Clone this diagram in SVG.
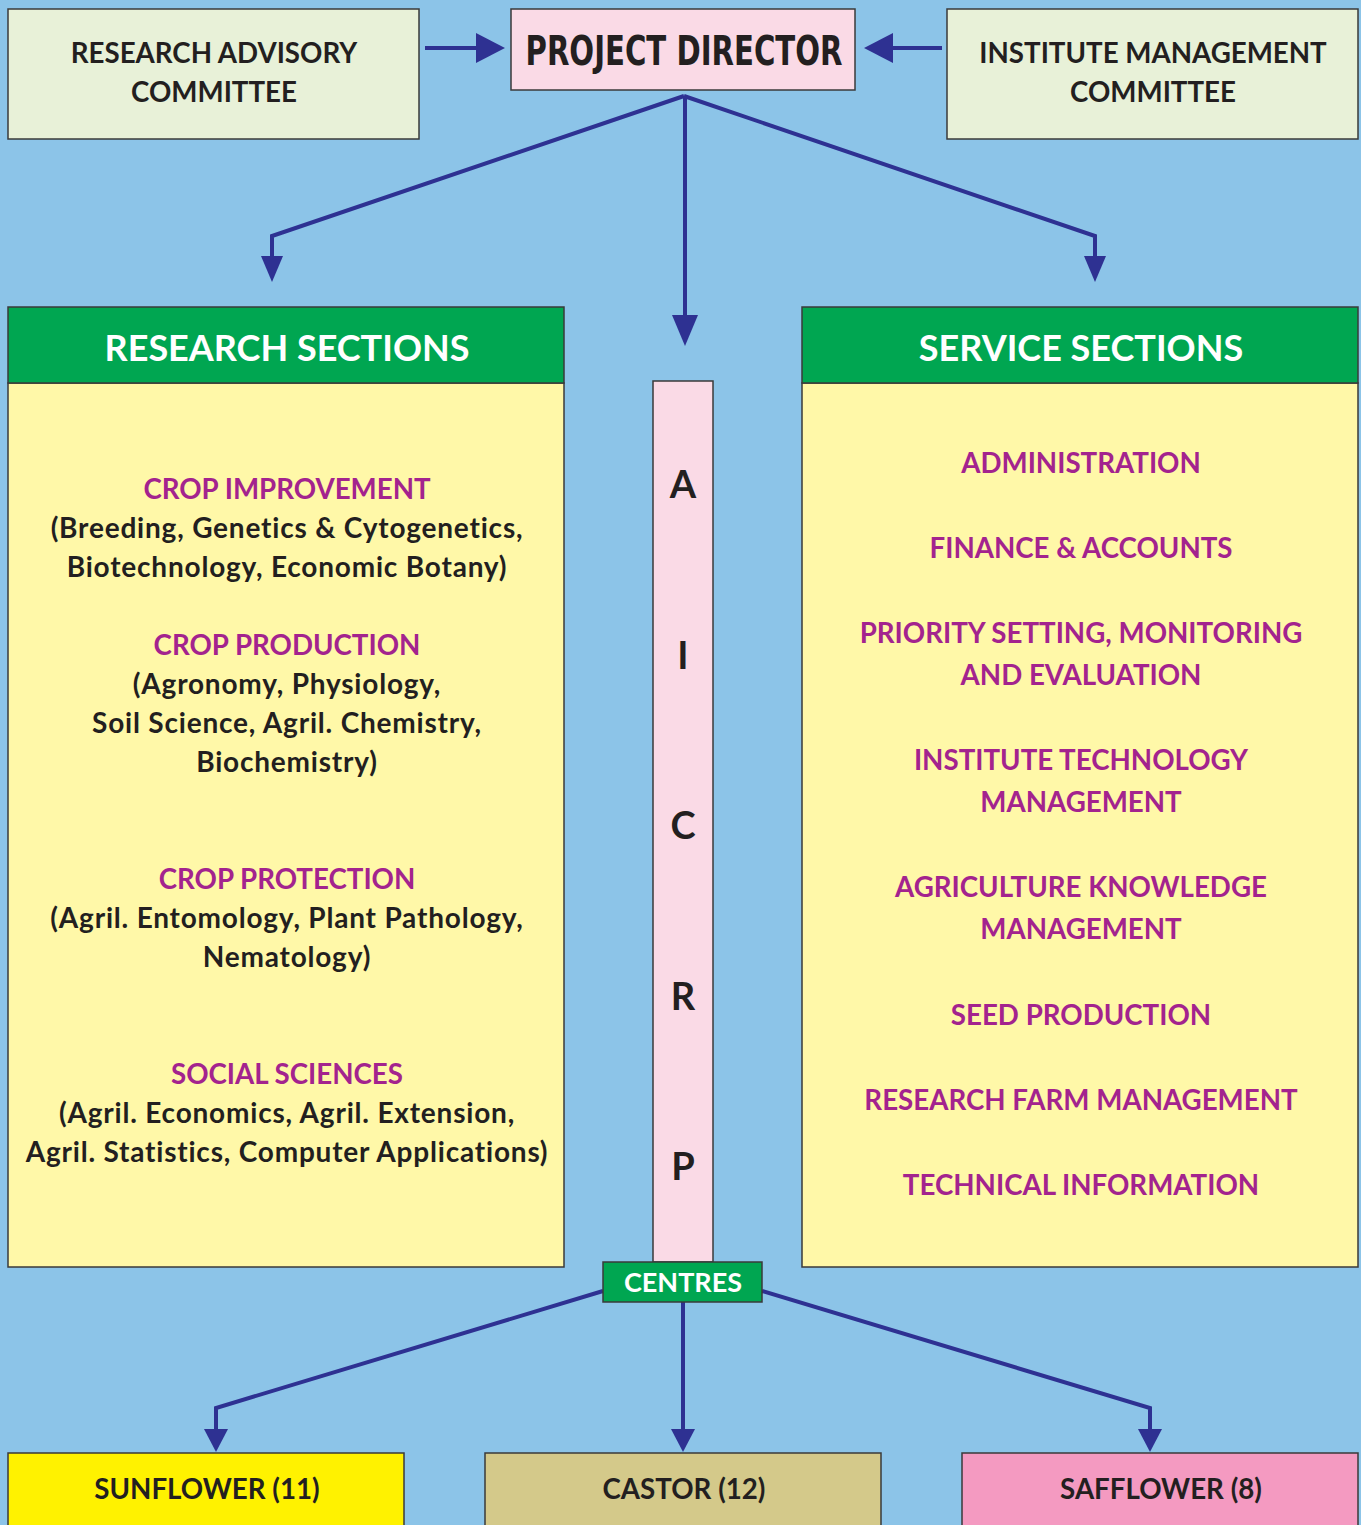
<svg xmlns="http://www.w3.org/2000/svg" width="1361" height="1525" viewBox="0 0 1361 1525">
<defs>
<style>
.bx{stroke:#3a3a3a;stroke-width:1.5}
.t{font-family:Lato,"Open Sans","Liberation Sans",sans-serif;font-weight:700;text-anchor:middle}
.dk{fill:#231f20;font-size:27.7px}
.dm{fill:#231f20;font-size:28px;letter-spacing:0.8px}
.pu{fill:#a3238e;font-size:27.7px}
.wh{fill:#ffffff}
.ln{fill:none;stroke:#2e3192;stroke-width:4}
.hd{fill:#2e3192}
</style>
</defs>
<rect x="0" y="0" width="1361" height="1525" fill="#8cc4e8"/>

<g id="connectors">
<line class="ln" x1="425" y1="48" x2="480" y2="48"/>
<path class="hd" d="M476,33 L505,48 L476,63 Z"/>
<line class="ln" x1="942" y1="48" x2="890" y2="48"/>
<path class="hd" d="M893,33 L864,48 L893,63 Z"/>
<polyline class="ln" points="684,96 272,236 272,258"/>
<path class="hd" d="M261,256 L283,256 L272,282 Z"/>
<line class="ln" x1="685" y1="96" x2="685" y2="318"/>
<path class="hd" d="M672,315 L698,315 L685,346 Z"/>
<polyline class="ln" points="684,96 1095,236 1095,258"/>
<path class="hd" d="M1084,256 L1106,256 L1095,282 Z"/>
<polyline class="ln" points="603,1291 216,1408 216,1432"/>
<path class="hd" d="M204,1429 L228,1429 L216,1452 Z"/>
<line class="ln" x1="683" y1="1302" x2="683" y2="1432"/>
<path class="hd" d="M671,1429 L695,1429 L683,1452 Z"/>
<polyline class="ln" points="762,1291 1150,1408 1150,1432"/>
<path class="hd" d="M1138,1429 L1162,1429 L1150,1452 Z"/>
</g>

<g id="research-advisory">
<rect class="bx" x="8" y="9" width="411" height="130" fill="#e8f1d8"/>
<text class="t dk" x="214" y="63">RESEARCH ADVISORY</text>
<text class="t dk" x="214" y="102">COMMITTEE</text>
</g>

<g id="project-director">
<rect class="bx" x="511" y="9" width="344" height="81" fill="#fadae6"/>
<text x="684" y="65" text-anchor="middle" font-family="'DejaVu Sans','Liberation Sans',sans-serif" font-weight="900" font-size="41" fill="#231f20" textLength="317" lengthAdjust="spacingAndGlyphs">PROJECT DIRECTOR</text>
</g>

<g id="institute-management">
<rect class="bx" x="947" y="9" width="411" height="130" fill="#e8f1d8"/>
<text class="t dk" x="1153" y="63">INSTITUTE MANAGEMENT</text>
<text class="t dk" x="1153" y="102">COMMITTEE</text>
</g>

<g id="research-sections">
<rect class="bx" x="8" y="383" width="556" height="884" fill="#fff8a8"/>
<rect class="bx" x="8" y="307" width="556" height="76" fill="#00a651"/>
<text class="t wh" x="287" y="361" font-size="36">RESEARCH SECTIONS</text>
<text class="t pu" x="287" y="499">CROP IMPROVEMENT</text>
<text class="t dm" x="287" y="538">(Breeding, Genetics &amp; Cytogenetics,</text>
<text class="t dm" x="287" y="577">Biotechnology, Economic Botany)</text>
<text class="t pu" x="287" y="655">CROP PRODUCTION</text>
<text class="t dm" x="287" y="694">(Agronomy, Physiology,</text>
<text class="t dm" x="287" y="733">Soil Science, Agril. Chemistry,</text>
<text class="t dm" x="287" y="772">Biochemistry)</text>
<text class="t pu" x="287" y="889">CROP PROTECTION</text>
<text class="t dm" x="287" y="928">(Agril. Entomology, Plant Pathology,</text>
<text class="t dm" x="287" y="967">Nematology)</text>
<text class="t pu" x="287" y="1084">SOCIAL SCIENCES</text>
<text class="t dm" x="287" y="1123">(Agril. Economics, Agril. Extension,</text>
<text class="t dm" x="287" y="1162">Agril. Statistics, Computer Applications)</text>
</g>

<g id="aicrp">
<rect class="bx" x="653" y="381" width="60" height="881" fill="#fadae6"/>
<text class="t" x="683" y="498" font-size="38" fill="#231f20">A</text>
<text class="t" x="683" y="669" font-size="38" fill="#231f20">I</text>
<text class="t" x="683" y="839" font-size="38" fill="#231f20">C</text>
<text class="t" x="683" y="1010" font-size="38" fill="#231f20">R</text>
<text class="t" x="683" y="1180" font-size="38" fill="#231f20">P</text>
</g>

<g id="service-sections">
<rect class="bx" x="802" y="383" width="556" height="884" fill="#fff8a8"/>
<rect class="bx" x="802" y="307" width="556" height="76" fill="#00a651"/>
<text class="t wh" x="1081" y="361" font-size="36">SERVICE SECTIONS</text>
<text class="t pu" x="1081" y="473">ADMINISTRATION</text>
<text class="t pu" x="1081" y="558">FINANCE &amp; ACCOUNTS</text>
<text class="t pu" x="1081" y="643">PRIORITY SETTING, MONITORING</text>
<text class="t pu" x="1081" y="685">AND EVALUATION</text>
<text class="t pu" x="1081" y="770">INSTITUTE TECHNOLOGY</text>
<text class="t pu" x="1081" y="812">MANAGEMENT</text>
<text class="t pu" x="1081" y="897">AGRICULTURE KNOWLEDGE</text>
<text class="t pu" x="1081" y="939">MANAGEMENT</text>
<text class="t pu" x="1081" y="1025">SEED PRODUCTION</text>
<text class="t pu" x="1081" y="1110">RESEARCH FARM MANAGEMENT</text>
<text class="t pu" x="1081" y="1195">TECHNICAL INFORMATION</text>
</g>

<g id="centres">
<rect class="bx" x="603" y="1262" width="159" height="40" fill="#00a651"/>
<text class="t wh" x="683" y="1292" font-size="27">CENTRES</text>
</g>

<g id="sunflower">
<rect class="bx" x="8" y="1453" width="396" height="80" fill="#fff200"/>
<text class="t dk" x="207" y="1499" font-size="28">SUNFLOWER (11)</text>
</g>
<g id="castor">
<rect class="bx" x="485" y="1453" width="396" height="80" fill="#d4c98a"/>
<text class="t dk" x="684" y="1499" font-size="28">CASTOR (12)</text>
</g>
<g id="safflower">
<rect class="bx" x="962" y="1453" width="396" height="80" fill="#f49ac1"/>
<text class="t dk" x="1161" y="1499" font-size="28">SAFFLOWER (8)</text>
</g>
</svg>
